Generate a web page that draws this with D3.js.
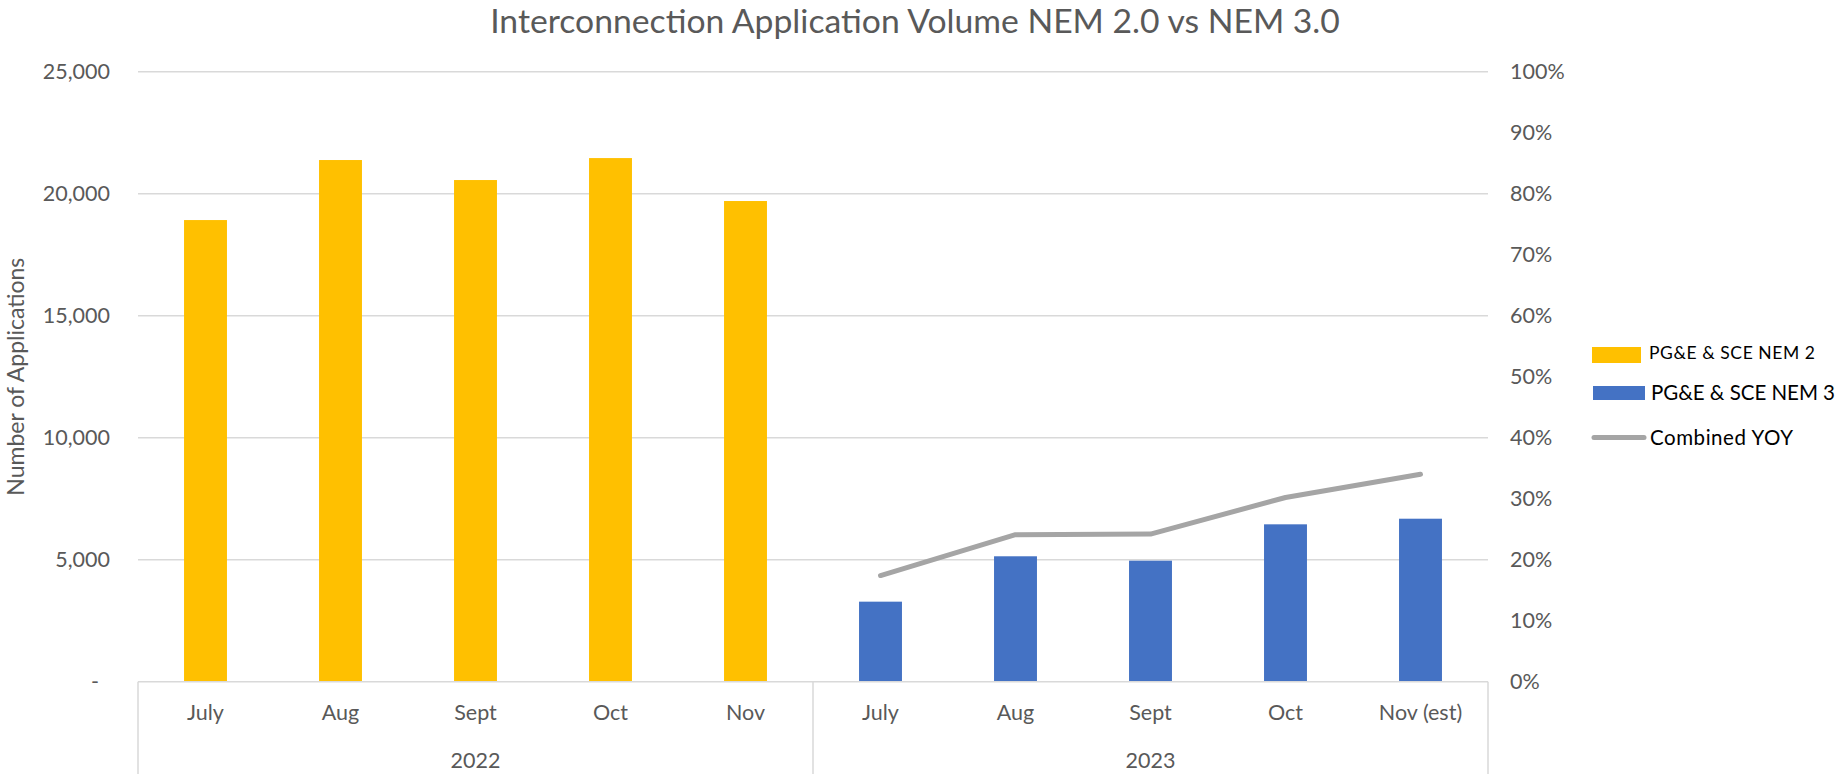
<!DOCTYPE html>
<html>
<head>
<meta charset="utf-8">
<script src="https://cdn.jsdelivr.net/npm/d3@7"></script>
<style>
  html, body { margin: 0; padding: 0; background: #fff; }
  svg { display: block; font-family: Lato, "Open Sans", sans-serif; }
</style>
</head>
<body>
<svg id="chart" width="1837" height="774"></svg>
<script>
// ---------- data ----------
const months = ["July", "Aug", "Sept", "Oct", "Nov", "July", "Aug", "Sept", "Oct", "Nov (est)"];
const monthYears = ["2022", "2022", "2022", "2022", "2022", "2023", "2023", "2023", "2023", "2023"];
const years = ["2022", "2023"];
const nem2 = [18920, 21380, 20560, 21460, 19700, null, null, null, null, null];
const nem3 = [null, null, null, null, null, 3280, 5140, 4960, 6450, 6680];
const yoy = [null, null, null, null, null, 0.174, 0.241, 0.242, 0.302, 0.340];
const leftTicks = [0, 5000, 10000, 15000, 20000, 25000];
const rightTicks = [0, 0.1, 0.2, 0.3, 0.4, 0.5, 0.6, 0.7, 0.8, 0.9, 1.0];
const titleText = "Interconnection Application Volume NEM 2.0 vs NEM 3.0";
const yTitle = "Number of Applications";
const seriesNames = ["PG&E & SCE NEM 2", "PG&E & SCE NEM 3", "Combined YOY"];

// ---------- layout ----------
const W = 1837, H = 774;
const plot = { left: 138, right: 1488, top: 71.7, bottom: 681.7 };
const colNem2 = "#FFC000", colNem3 = "#4472C4", colLine = "#A5A5A5";
const gridCol = "#D9D9D9", textCol = "#595959";

const svg = d3.select("#chart");
const keys = months.map((m, i) => monthYears[i] + "-" + m);

const x = d3.scaleBand().domain(keys).range([plot.left, plot.right]).padding(0);
const yL = d3.scaleLinear().domain([0, 25000]).range([plot.bottom, plot.top]);
const yR = d3.scaleLinear().domain([0, 1]).range([plot.bottom, plot.top]);
const barW = x.bandwidth() * 0.318;
const cx = k => x(k) + x.bandwidth() / 2;

// title
const title = svg.append("text")
  .attr("x", 915).attr("y", 32.5)
  .attr("text-anchor", "middle")
  .attr("fill", textCol)
  .style("font-size", "29.5px")
  .text(titleText);
const tw = title.node().getComputedTextLength();
title.style("font-size", (29.5 * 850 / tw) + "px");

// gridlines
svg.append("g").selectAll("line")
  .data(leftTicks.filter(d => d > 0))
  .join("line")
  .attr("x1", plot.left).attr("x2", plot.right)
  .attr("y1", d => yL(d)).attr("y2", d => yL(d))
  .attr("stroke", gridCol).attr("stroke-width", 1.5);

// left axis
const leftAxis = d3.axisLeft(yL).tickValues(leftTicks)
  .tickFormat(d => d === 0 ? "-" : d3.format(",")(d))
  .tickSize(0).tickPadding(0);
const gL = svg.append("g").attr("transform", `translate(110,0)`).call(leftAxis);
gL.select(".domain").remove();
gL.selectAll("text")
  .attr("fill", textCol)
  .style("font-size", "21.5px")
  .style("font-family", "Lato, sans-serif")
  .attr("dx", d => d === 0 ? -11 : 0);

// right axis
const rightAxis = d3.axisRight(yR).tickValues(rightTicks)
  .tickFormat(d3.format(".0%"))
  .tickSize(0).tickPadding(0);
const gR = svg.append("g").attr("transform", `translate(1510,0)`).call(rightAxis);
gR.select(".domain").remove();
gR.selectAll("text")
  .attr("fill", textCol)
  .style("font-size", "21.5px")
  .style("font-family", "Lato, sans-serif");

// y-axis title
svg.append("text")
  .attr("transform", `translate(24,${(plot.top + plot.bottom) / 2}) rotate(-90)`)
  .attr("text-anchor", "middle")
  .attr("fill", textCol)
  .style("font-size", "23px")
  .text(yTitle);

// bars
svg.append("g").selectAll("rect")
  .data(keys.map((k, i) => ({ k, v: nem2[i] })).filter(d => d.v != null))
  .join("rect")
  .attr("x", d => cx(d.k) - barW / 2)
  .attr("width", barW)
  .attr("y", d => yL(d.v))
  .attr("height", d => yL(0) - yL(d.v))
  .attr("fill", colNem2);

svg.append("g").selectAll("rect")
  .data(keys.map((k, i) => ({ k, v: nem3[i] })).filter(d => d.v != null))
  .join("rect")
  .attr("x", d => cx(d.k) - barW / 2)
  .attr("width", barW)
  .attr("y", d => yL(d.v))
  .attr("height", d => yL(0) - yL(d.v))
  .attr("fill", colNem3);

// category axis
const gx = svg.append("g");
gx.append("line")
  .attr("x1", plot.left).attr("x2", plot.right)
  .attr("y1", plot.bottom).attr("y2", plot.bottom)
  .attr("stroke", gridCol).attr("stroke-width", 1.5);
const groupEdges = [keys[0], keys[5]].map(k => x(k)).concat([plot.right]);
gx.selectAll("line.sep")
  .data(groupEdges)
  .join("line").attr("class", "sep")
  .attr("x1", d => d).attr("x2", d => d)
  .attr("y1", plot.bottom).attr("y2", H)
  .attr("stroke", gridCol).attr("stroke-width", 1.5);
gx.selectAll("text.m")
  .data(keys)
  .join("text").attr("class", "m")
  .attr("x", d => cx(d)).attr("y", 720)
  .attr("text-anchor", "middle")
  .attr("fill", textCol)
  .style("font-size", "21.5px")
  .text((d, i) => months[i]);
gx.selectAll("text.y")
  .data(years)
  .join("text").attr("class", "y")
  .attr("x", yr => {
    const ks = keys.filter((k, i) => monthYears[i] === yr);
    return (x(ks[0]) + x(ks[ks.length - 1]) + x.bandwidth()) / 2;
  })
  .attr("y", 767.5)
  .attr("text-anchor", "middle")
  .attr("fill", textCol)
  .style("font-size", "21.5px")
  .text(d => d);

// line
const lineData = keys.map((k, i) => ({ k, v: yoy[i] })).filter(d => d.v != null);
svg.append("path")
  .datum(lineData)
  .attr("d", d3.line().x(d => cx(d.k)).y(d => yR(d.v)))
  .attr("fill", "none")
  .attr("stroke", colLine)
  .attr("stroke-width", 5)
  .attr("stroke-linecap", "round")
  .attr("stroke-linejoin", "round");

// legend
const lg = svg.append("g");
lg.append("rect").attr("x", 1592).attr("y", 347).attr("width", 49).attr("height", 16).attr("fill", colNem2);
lg.append("text").attr("x", 1649).attr("y", 358.5).attr("fill", "#000")
  .style("font-size", "17.5px").attr("textLength", 166).attr("lengthAdjust", "spacing").text(seriesNames[0]);
lg.append("rect").attr("x", 1593).attr("y", 386).attr("width", 52).attr("height", 14).attr("fill", colNem3);
lg.append("text").attr("x", 1651).attr("y", 400).attr("fill", "#000")
  .style("font-size", "20.5px").attr("textLength", 184).attr("lengthAdjust", "spacing").text(seriesNames[1]);
lg.append("line").attr("x1", 1594).attr("x2", 1644).attr("y1", 437.5).attr("y2", 437.5)
  .attr("stroke", colLine).attr("stroke-width", 5).attr("stroke-linecap", "round");
lg.append("text").attr("x", 1650).attr("y", 445).attr("fill", "#000")
  .style("font-size", "20.5px").attr("textLength", 143).attr("lengthAdjust", "spacing").text(seriesNames[2]);
</script>
</body>
</html>
